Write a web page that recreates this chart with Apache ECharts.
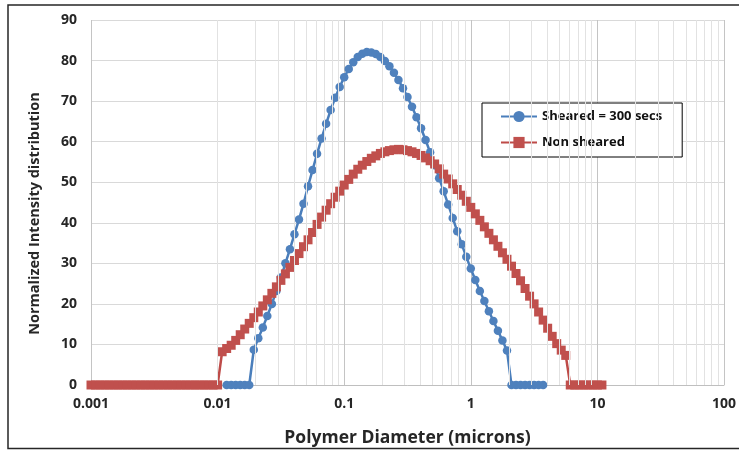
<!DOCTYPE html>
<html>
<head>
<meta charset="utf-8">
<script src="https://cdn.jsdelivr.net/npm/echarts@6/dist/echarts.min.js"></script>
<style>
  html, body { margin: 0; padding: 0; background: #fff; }
  #chart { width: 739px; height: 452px; }
</style>
</head>
<body>
<div id="chart"></div>
<script>
// Particle size bins (microns), log spaced
const sizes = [
  0.001, 0.001086, 0.001179, 0.00128, 0.00139, 0.001509, 0.001638, 0.001778, 0.001931, 0.002096,
  0.002276, 0.002471, 0.002683, 0.002913, 0.003162, 0.003433, 0.003728, 0.004047, 0.004394, 0.004771,
  0.00518, 0.005623, 0.006105, 0.006629, 0.007197, 0.007814, 0.008483, 0.009211,
  0.01, 0.01086, 0.01179, 0.0128, 0.0139, 0.01509, 0.01638, 0.01778, 0.01931, 0.02096,
  0.02276, 0.02471, 0.02683, 0.02913, 0.03162, 0.03433, 0.03728, 0.04047, 0.04394, 0.04771,
  0.0518, 0.05623, 0.06105, 0.06629, 0.07197, 0.07814, 0.08483, 0.09211,
  0.1, 0.1086, 0.1179, 0.128, 0.139, 0.1509, 0.1638, 0.1778, 0.1931, 0.2096,
  0.2276, 0.2471, 0.2683, 0.2913, 0.3162, 0.3433, 0.3728, 0.4047, 0.4394, 0.4771,
  0.518, 0.5623, 0.6105, 0.6629, 0.7197, 0.7814, 0.8483, 0.9211,
  1, 1.086, 1.179, 1.28, 1.39, 1.509, 1.638, 1.778, 1.931, 2.096,
  2.276, 2.471, 2.683, 2.913, 3.162, 3.433, 3.728, 4.047, 4.394, 4.771,
  5.18, 5.623, 6.105, 6.629, 7.197, 7.814, 8.483, 9.211,
  10, 10.86
];

// Sheared sample (300 s), normalized intensity per bin; null = bin not reported
const shearedValues = [
  null, null, null, null, null, null, null, null, null, null,
  null, null, null, null, null, null, null, null, null, null,
  null, null, null, null, null, null, null, null, null, null,
  0, 0, 0, 0, 0, 0,
  8.7, 11.5, 14.2, 17.0, 20.0, 23.2, 26.5, 30.0, 33.5, 37.2,
  40.8, 44.7, 49.0, 53.0, 57.0, 60.8, 64.4, 67.8, 70.8, 73.5,
  75.9, 77.9, 79.6, 80.9, 81.7, 82.1, 82.0, 81.6, 80.9, 79.9,
  78.6, 77.0, 75.2, 73.2, 71.0, 68.6, 66.0, 63.3, 60.4, 57.4,
  54.2, 51.0, 47.8, 44.5, 41.2, 37.9, 34.7, 31.6, 28.7, 25.9,
  23.2, 20.7, 18.2, 15.8, 13.4, 11.0, 8.5,
  0, 0, 0, 0, 0, 0, 0, 0,
  null, null, null, null, null, null, null, null, null, null, null, null, null
];

// Non-sheared sample, normalized intensity per bin
const nonShearedValues = [
  0, 0, 0, 0, 0, 0, 0, 0, 0, 0,
  0, 0, 0, 0, 0, 0, 0, 0, 0, 0,
  0, 0, 0, 0, 0, 0, 0, 0, 0,
  8.2, 9.0, 9.8, 11.0, 12.4, 13.8, 15.2, 16.6, 18.0, 19.5,
  21.0, 22.6, 24.2, 25.8, 27.4, 29.0, 30.7, 32.4, 34.1, 35.8,
  37.6, 39.6, 41.4, 43.1, 44.7, 46.3, 47.8, 49.3, 50.7, 52.0,
  53.2, 54.2, 55.1, 55.9, 56.5, 57.1, 57.5, 57.8, 58.0, 58.1,
  58.0, 57.8, 57.5, 57.1, 56.6, 56.0, 55.3, 54.5, 53.3, 52.0,
  50.8, 49.6, 48.2, 46.8, 45.3, 43.8, 42.2, 40.6, 39.0, 37.4,
  35.8, 34.2, 32.6, 31.0, 29.3, 27.5, 25.7, 23.8, 21.9, 20.0,
  18.0, 16.0, 14.0, 12.0, 10.2, 8.6, 7.3,
  0, 0, 0, 0, 0, 0, 0, 0
];

// Intermediate log gridlines (2..9 within each decade)
const minorGrid = [
  0.002, 0.003, 0.004, 0.005, 0.006, 0.007, 0.008, 0.009,
  0.02, 0.03, 0.04, 0.05, 0.06, 0.07, 0.08, 0.09,
  0.2, 0.3, 0.4, 0.5, 0.6, 0.7, 0.8, 0.9,
  2, 3, 4, 5, 6, 7, 8, 9,
  20, 30, 40, 50, 60, 70, 80, 90
];

const seriesNames = ['Sheared = 300 secs', 'Non sheared'];

function toPairs(vals) {
  const out = [];
  vals.forEach((v, i) => { if (v !== null) out.push([sizes[i], v]); });
  return out;
}

const FONT = '"Open Sans", "Noto Sans", sans-serif';
const chart = echarts.init(document.getElementById('chart'), null, { renderer: 'canvas' });

chart.setOption({
  animation: false,
  backgroundColor: '#fff',
  textStyle: { fontFamily: FONT },
  graphic: [{
    type: 'rect',
    shape: { x: 8, y: 5, width: 760, height: 443.5 },
    style: { fill: 'none', stroke: '#262626', lineWidth: 1.5 },
    silent: true,
    z: 100
  }],
  grid: { left: 91, right: 12, top: 20, bottom: 60, containLabel: false },
  legend: {
    data: seriesNames,
    orient: 'vertical',
    left: 482,
    top: 103,
    backgroundColor: '#fff',
    borderColor: '#000',
    borderWidth: 1,
    padding: [7, 20, 8, 18],
    itemGap: 13,
    itemWidth: 36,
    itemHeight: 14,
    textStyle: { fontFamily: FONT, fontWeight: 'bold', fontSize: 13, color: '#111' }
  },
  xAxis: {
    type: 'log',
    logBase: 10,
    min: 0.001,
    max: 100,
    name: 'Polymer Diameter (microns)',
    nameLocation: 'middle',
    nameGap: 44,
    nameTextStyle: { fontFamily: FONT, fontWeight: 'bold', fontSize: 17.5, color: '#262626' },
    axisLine: { show: true, lineStyle: { color: '#bfbfbf', width: 1 } },
    axisTick: { show: false },
    axisLabel: {
      margin: 12,
      fontFamily: FONT, fontWeight: 'bold', fontSize: 14, color: '#262626',
      formatter: v => String(+Number(v).toPrecision(3))
    },
    splitLine: { show: true, lineStyle: { color: '#c4c4c4', width: 1 } }
  },
  yAxis: {
    type: 'value',
    min: 0,
    max: 90,
    interval: 10,
    name: 'Normalized Intensity distribution',
    nameLocation: 'middle',
    nameGap: 49,
    nameTextStyle: {
      fontFamily: FONT, fontWeight: 'bold', fontSize: 14.5, color: '#262626',
      padding: [0, 22, 0, 0]
    },
    axisLine: { show: false },
    axisTick: { show: false },
    axisLabel: { margin: 14, fontFamily: FONT, fontWeight: 'bold', fontSize: 14, color: '#262626' },
    splitLine: { show: true, lineStyle: { color: '#d9d9d9', width: 1 } }
  },
  series: [
    {
      name: 'minor-grid',
      type: 'line',
      data: [],
      silent: true,
      z: 1,
      markLine: {
        silent: true,
        symbol: ['none', 'none'],
        label: { show: false },
        emphasis: { disabled: true },
        lineStyle: { color: '#e2e2e2', width: 1, type: 'solid' },
        data: minorGrid.map(v => ({ xAxis: v }))
      }
    },
    {
      name: seriesNames[0],
      type: 'line',
      data: toPairs(shearedValues),
      showAllSymbol: true,
      symbol: 'circle',
      symbolSize: 8.5,
      z: 3,
      lineStyle: { color: '#4A7EBB', width: 2.5 },
      itemStyle: { color: '#4F81BD', borderWidth: 0 }
    },
    {
      name: seriesNames[1],
      type: 'line',
      data: toPairs(nonShearedValues),
      showAllSymbol: true,
      symbol: 'rect',
      symbolSize: 9,
      z: 4,
      lineStyle: { color: '#BE4B48', width: 2.5 },
      itemStyle: { color: '#C0504D', borderWidth: 0 }
    }
  ]
});
</script>
</body>
</html>
